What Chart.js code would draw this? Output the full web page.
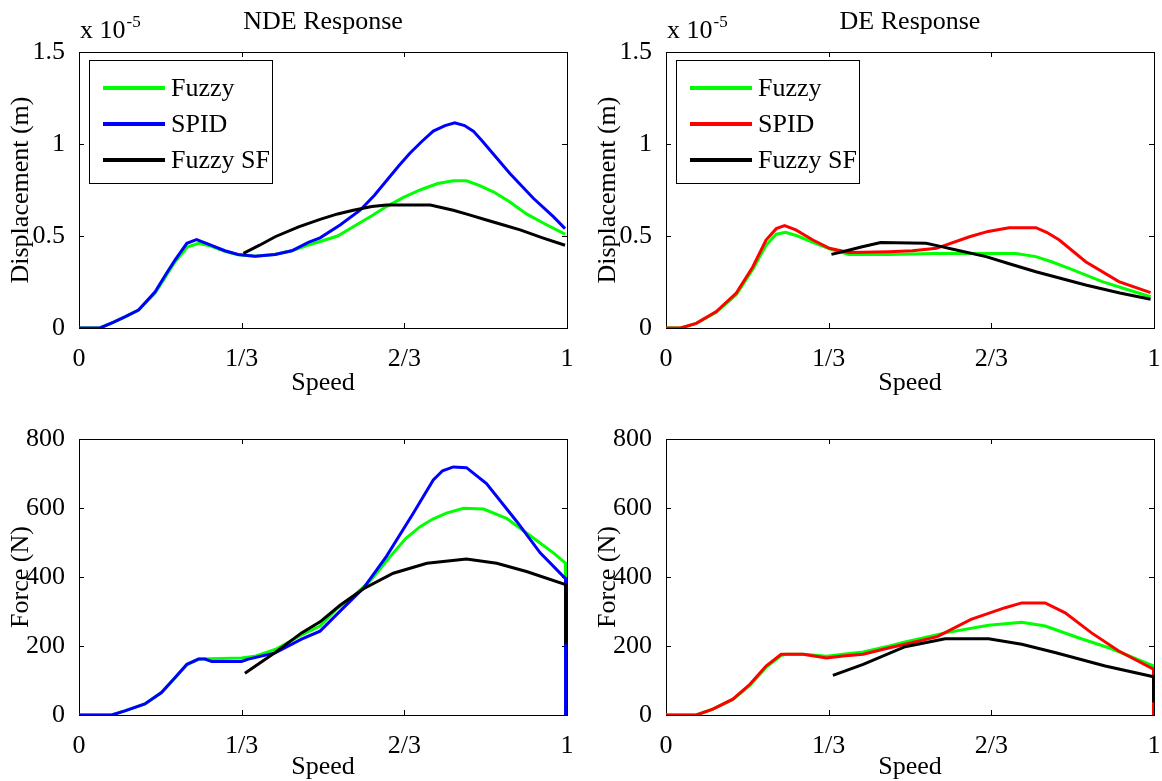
<!DOCTYPE html>
<html>
<head>
<meta charset="utf-8">
<script src="https://cdn.jsdelivr.net/npm/chart.js@4"></script>
<style>
  html, body { margin: 0; padding: 0; background: #fff; }
  body { width: 1162px; height: 781px; position: relative; overflow: hidden; }
  canvas { position: absolute; }
</style>
</head>
<body>
<canvas id="ndeDisp" width="587" height="400" style="left:0;top:0"></canvas>
<canvas id="deDisp" width="600" height="400" style="left:587px;top:0"></canvas>
<canvas id="ndeForce" width="587" height="400" style="left:0;top:387px"></canvas>
<canvas id="deForce" width="600" height="400" style="left:587px;top:387px"></canvas>
<script>
// Axis ticks
const xTickValues = [0, 1/3, 2/3, 1];
const xTickLabels = ['0', '1/3', '2/3', '1'];
const seriesNames = ['Fuzzy', 'SPID', 'Fuzzy SF'];

// NDE displacement (x 10^-5 m) vs speed
const ndeDispFuzzy = [[0,0],[0.043,0],[0.07,0.03],[0.094,0.06],[0.122,0.098],[0.156,0.19],[0.18,0.29],[0.197,0.36],[0.222,0.44],[0.245,0.46],[0.27,0.445],[0.3,0.415],[0.326,0.398],[0.36,0.39],[0.40,0.40],[0.436,0.42],[0.47,0.45],[0.494,0.47],[0.53,0.50],[0.562,0.55],[0.60,0.61],[0.63,0.66],[0.665,0.71],[0.699,0.75],[0.735,0.785],[0.767,0.80],[0.794,0.80],[0.82,0.775],[0.849,0.74],[0.88,0.69],[0.917,0.62],[0.955,0.565],[0.996,0.51]];
const ndeDispSpid = [[0,0],[0.043,0],[0.07,0.03],[0.094,0.06],[0.122,0.098],[0.156,0.197],[0.18,0.30],[0.197,0.37],[0.221,0.46],[0.241,0.48],[0.265,0.456],[0.299,0.42],[0.326,0.40],[0.361,0.39],[0.402,0.40],[0.436,0.42],[0.47,0.465],[0.494,0.49],[0.535,0.56],[0.576,0.64],[0.605,0.72],[0.63,0.80],[0.655,0.88],[0.678,0.95],[0.703,1.015],[0.726,1.07],[0.75,1.10],[0.77,1.115],[0.79,1.10],[0.808,1.07],[0.825,1.02],[0.842,0.967],[0.883,0.84],[0.931,0.705],[0.972,0.605],[0.996,0.54]];
const ndeDispSF = [[0.337,0.406],[0.37,0.45],[0.402,0.496],[0.45,0.55],[0.494,0.59],[0.53,0.62],[0.562,0.64],[0.60,0.66],[0.63,0.668],[0.72,0.668],[0.767,0.64],[0.80,0.615],[0.835,0.587],[0.87,0.56],[0.904,0.533],[0.95,0.49],[0.996,0.45]];

// DE displacement (x 10^-5 m) vs speed
const deDispFuzzy = [[0,0],[0.03,0],[0.062,0.025],[0.103,0.085],[0.144,0.18],[0.178,0.32],[0.205,0.45],[0.226,0.51],[0.245,0.52],[0.27,0.50],[0.301,0.465],[0.335,0.43],[0.375,0.40],[0.457,0.40],[0.55,0.405],[0.65,0.405],[0.717,0.405],[0.758,0.388],[0.79,0.36],[0.826,0.324],[0.894,0.252],[0.95,0.205],[0.993,0.17]];
const deDispSpid = [[0,0],[0.03,0],[0.062,0.025],[0.103,0.089],[0.144,0.19],[0.178,0.333],[0.205,0.478],[0.226,0.54],[0.243,0.556],[0.266,0.533],[0.301,0.478],[0.335,0.433],[0.375,0.41],[0.457,0.415],[0.505,0.42],[0.554,0.433],[0.622,0.496],[0.66,0.525],[0.703,0.545],[0.758,0.545],[0.78,0.52],[0.806,0.478],[0.86,0.36],[0.928,0.252],[0.993,0.192]];
const deDispSF = [[0.339,0.40],[0.37,0.42],[0.4,0.44],[0.44,0.464],[0.533,0.46],[0.56,0.445],[0.588,0.428],[0.656,0.388],[0.70,0.352],[0.758,0.306],[0.86,0.234],[0.93,0.19],[0.993,0.156]];

// NDE force (N) vs speed
const ndeForceFuzzy = [[0,0],[0.067,0],[0.094,12],[0.135,32],[0.169,65],[0.197,108],[0.221,145],[0.245,162],[0.27,163],[0.333,165],[0.36,170],[0.402,190],[0.456,232],[0.494,258],[0.53,310],[0.562,344],[0.596,388],[0.644,470],[0.67,512],[0.699,546],[0.725,568],[0.753,585],[0.788,599],[0.829,597],[0.876,570],[0.931,513],[0.972,470],[0.997,440],[0.997,0]];
const ndeForceSpid = [[0,0],[0.067,0],[0.094,12],[0.135,32],[0.169,65],[0.197,109],[0.221,147],[0.245,162],[0.258,162],[0.272,155],[0.333,155],[0.347,162],[0.402,180],[0.456,220],[0.494,243],[0.535,301],[0.583,368],[0.63,460],[0.685,585],[0.726,681],[0.745,708],[0.767,719],[0.794,717],[0.835,671],[0.897,561],[0.945,470],[0.997,395],[0.997,0]];
const ndeForceSF = [[0.34,121],[0.402,181],[0.456,238],[0.494,270],[0.535,318],[0.583,366],[0.644,411],[0.713,440],[0.794,452],[0.856,440],[0.917,416],[0.997,378],[0.997,205]];

// DE force (N) vs speed
const deForceFuzzy = [[0,0],[0.062,0],[0.096,17],[0.137,45],[0.172,86],[0.205,138],[0.236,172],[0.245,176],[0.281,176],[0.30,174],[0.329,170],[0.363,176],[0.404,183],[0.458,200],[0.49,212],[0.572,238],[0.661,260],[0.729,269],[0.777,258],[0.845,224],[0.913,192],[0.999,142],[0.999,0]];
const deForceSpid = [[0,0],[0.062,0],[0.096,17],[0.137,46],[0.172,89],[0.205,142],[0.236,176],[0.281,176],[0.30,172],[0.329,165],[0.363,171],[0.404,176],[0.458,195],[0.49,205],[0.556,227],[0.625,277],[0.695,311],[0.729,325],[0.777,325],[0.818,296],[0.872,238],[0.927,186],[0.999,133],[0.999,0]];
const deForceSF = [[0.342,115],[0.404,147],[0.49,198],[0.572,221],[0.661,221],[0.729,205],[0.797,181],[0.90,142],[0.999,111],[0.999,37]];

const FONT = "'Liberation Serif', 'Times New Roman', serif";
Chart.defaults.font.family = FONT;
Chart.defaults.font.size = 26;
Chart.defaults.color = '#000';

// MATLAB style box with inward ticks on all four sides
const boxPlugin = {
    id: 'matlabBox',
    beforeDatasetsDraw(chart) {
        const { ctx, chartArea: a, scales } = chart;
        ctx.save();
        ctx.strokeStyle = '#000';
        ctx.lineWidth = 1;
        ctx.strokeRect(a.left + 0.5, a.top + 0.5, a.right - a.left, a.bottom - a.top);
        ctx.beginPath();
        scales.x.ticks.forEach(t => {
            const px = Math.round(scales.x.getPixelForValue(t.value)) + 0.5;
            ctx.moveTo(px, a.bottom); ctx.lineTo(px, a.bottom - 5);
            ctx.moveTo(px, a.top); ctx.lineTo(px, a.top + 5);
        });
        scales.y.ticks.forEach(t => {
            const py = Math.round(scales.y.getPixelForValue(t.value)) + 0.5;
            ctx.moveTo(a.left, py); ctx.lineTo(a.left + 5, py);
            ctx.moveTo(a.right, py); ctx.lineTo(a.right - 5, py);
        });
        ctx.stroke();
        ctx.restore();
    }
};

// Title, exponent label and boxed legend inside the axes
const decorPlugin = {
    id: 'decor',
    afterDraw(chart, args, opts) {
        const { ctx, chartArea: a } = chart;
        ctx.save();
        ctx.fillStyle = '#000';
        if (opts.title) {
            ctx.font = '26px ' + FONT;
            ctx.textAlign = 'center';
            ctx.textBaseline = 'alphabetic';
            ctx.fillText(opts.title, (a.left + a.right) / 2, 29);
        }
        if (opts.exponent) {
            ctx.textAlign = 'left';
            ctx.font = '26px ' + FONT;
            const base = 'x 10';
            ctx.fillText(base, a.left + 1, 38);
            const w = ctx.measureText(base).width;
            ctx.font = '17px ' + FONT;
            ctx.fillText(opts.exponent, a.left + 2 + w, 27);
        }
        if (opts.legend) {
            const lx = a.left + 10, ly = a.top + 8;
            ctx.fillStyle = '#fff';
            ctx.fillRect(lx, ly, 183, 123);
            ctx.strokeStyle = '#000';
            ctx.lineWidth = 1;
            ctx.strokeRect(lx + 0.5, ly + 0.5, 183, 123);
            ctx.font = '26px ' + FONT;
            ctx.textAlign = 'left';
            ctx.textBaseline = 'middle';
            chart.data.datasets.forEach((ds, i) => {
                const y = a.top + 36 + i * 36;
                ctx.strokeStyle = ds.borderColor;
                ctx.lineWidth = 4;
                ctx.beginPath();
                ctx.moveTo(a.left + 24, y);
                ctx.lineTo(a.left + 86, y);
                ctx.stroke();
                ctx.fillStyle = '#000';
                ctx.fillText(ds.label, a.left + 92, y + 1);
            });
        }
        ctx.restore();
    }
};

function makeChart(id, series, colors, yMax, yStep, yTitle, decor, speedPad) {
    const canvas = document.getElementById(id);
    const datasets = series.map((d, i) => ({
        label: seriesNames[i],
        data: d,
        borderColor: colors[i],
        backgroundColor: colors[i],
        borderWidth: 3,
        pointRadius: 0,
        tension: 0,
        order: 3 - i
    }));
    return new Chart(canvas, {
        type: 'line',
        data: { datasets },
        plugins: [boxPlugin, decorPlugin],
        options: {
            responsive: false,
            animation: false,
            events: [],
            layout: { padding: { top: 52, left: 0, bottom: 0, right: canvas.width - 567 } },
            scales: {
                x: {
                    type: 'linear',
                    min: 0,
                    max: 1,
                    afterBuildTicks: s => { s.ticks = xTickValues.map(v => ({ value: v })); },
                    afterFit: s => { s.height = 72; },
                    ticks: {
                        autoSkip: false,
                        maxRotation: 0,
                        padding: 8,
                        callback: (v, i) => xTickLabels[i]
                    },
                    grid: { display: false },
                    border: { display: false },
                    title: { display: true, text: 'Speed', padding: { top: 0, bottom: speedPad } }
                },
                y: {
                    min: 0,
                    max: yMax,
                    afterFit: s => { s.width = 79; },
                    ticks: { stepSize: yStep, padding: 6, callback: v => String(+v.toFixed(3)) },
                    grid: { display: false },
                    border: { display: false },
                    title: { display: true, text: yTitle, padding: { top: 6, bottom: 0 } }
                }
            },
            plugins: {
                legend: { display: false },
                tooltip: { enabled: false },
                decor: decor
            }
        }
    });
}

makeChart('ndeDisp', [ndeDispFuzzy, ndeDispSpid, ndeDispSF], ['#00ff00', '#0000ff', '#000000'],
    1.5, 0.5, 'Displacement (m)', { title: 'NDE Response', exponent: '-5', legend: true }, 1.5);
makeChart('deDisp', [deDispFuzzy, deDispSpid, deDispSF], ['#00ff00', '#ff0000', '#000000'],
    1.5, 0.5, 'Displacement (m)', { title: 'DE Response', exponent: '-5', legend: true }, 1.5);
makeChart('ndeForce', [ndeForceFuzzy, ndeForceSpid, ndeForceSF], ['#00ff00', '#0000ff', '#000000'],
    800, 200, 'Force (N)', {}, 4.5);
makeChart('deForce', [deForceFuzzy, deForceSpid, deForceSF], ['#00ff00', '#ff0000', '#000000'],
    800, 200, 'Force (N)', {}, 4.5);
</script>
</body>
</html>
